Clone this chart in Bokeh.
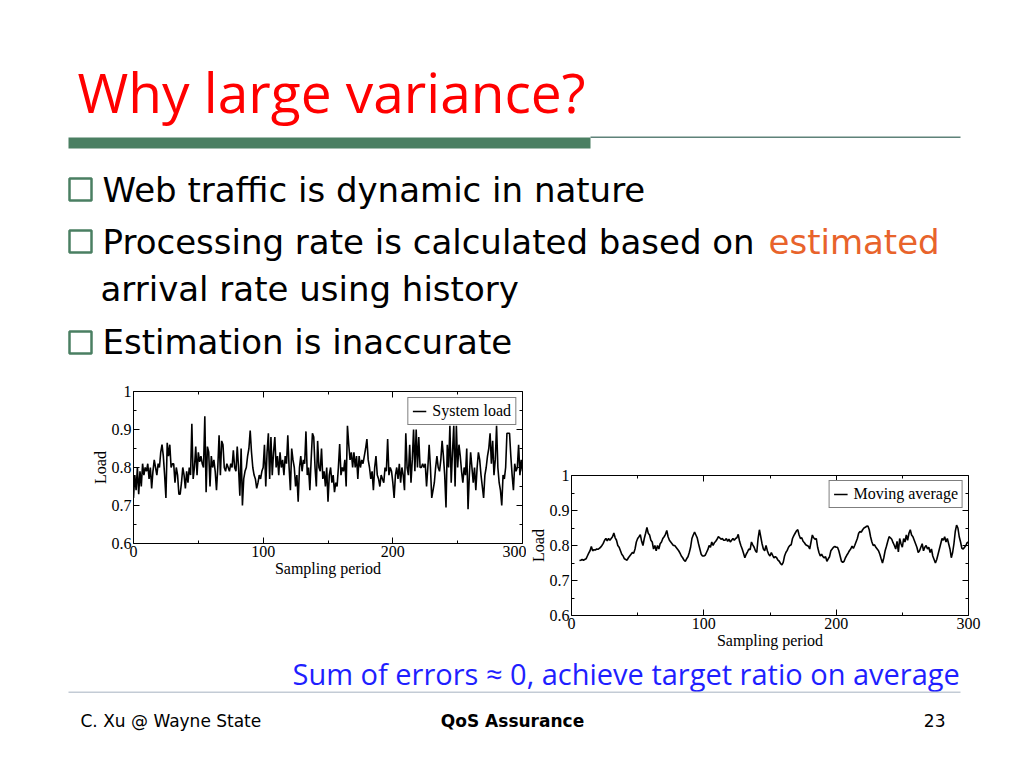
from bokeh.plotting import figure
from bokeh.layouts import row, column
from bokeh.models import (Range1d, Label, BoxAnnotation, LinearAxis, FixedTicker,
                          CustomJSTickFormatter, Spacer)
from bokeh.embed import file_html
from bokeh.resources import INLINE

# ---------------- slide texts ----------------
title_text = "Why large variance?"
bullet_1 = "Web traffic is dynamic in nature"
bullet_2a = "Processing rate is calculated based on "
bullet_2b = "estimated"
bullet_2c = "arrival rate using history"
bullet_3 = "Estimation is inaccurate"
note_text = "Sum of errors \u2248 0, achieve target ratio on average"
footer_left = "C. Xu @ Wayne State"
footer_mid = "QoS Assurance"
footer_right = "23"

# ---------------- chart data ----------------
x_label = "Sampling period"
y_label = "Load"
legend_1 = "System load"
legend_2 = "Moving average"
x_ticks = [0, 100, 200, 300]
x_minor = [50, 150, 250]
y_ticks = [0.6, 0.7, 0.8, 0.9, 1.0]
y_minor = [0.65, 0.75, 0.85, 0.95]

# system load, sampling periods 0..300
load = [
    0.72, 0.78, 0.74, 0.80, 0.73, 0.79, 0.75, 0.81, 0.78, 0.80,
    0.79, 0.81, 0.77, 0.80, 0.745, 0.79, 0.82, 0.80, 0.78, 0.81,
    0.80, 0.84, 0.86, 0.83, 0.78, 0.72, 0.865, 0.83, 0.86, 0.80,
    0.81, 0.81, 0.76, 0.80, 0.78, 0.73, 0.73, 0.76, 0.80, 0.78,
    0.745, 0.79, 0.76, 0.80, 0.78, 0.915, 0.77, 0.80, 0.855, 0.78,
    0.84, 0.815, 0.83, 0.81, 0.80, 0.935, 0.735, 0.855, 0.84, 0.75,
    0.83, 0.80, 0.82, 0.79, 0.74, 0.80, 0.885, 0.78, 0.87, 0.86,
    0.80, 0.79, 0.81, 0.80, 0.79, 0.81, 0.80, 0.845, 0.80, 0.79,
    0.855, 0.80, 0.726, 0.85, 0.70, 0.77, 0.79, 0.80, 0.83, 0.85,
    0.897, 0.84, 0.80, 0.78, 0.77, 0.745, 0.76, 0.78, 0.77, 0.79,
    0.80, 0.86, 0.75, 0.84, 0.89, 0.77, 0.88, 0.78, 0.84, 0.88,
    0.80, 0.83, 0.78, 0.84, 0.80, 0.82, 0.78, 0.83, 0.81, 0.885,
    0.80, 0.74, 0.85, 0.82, 0.80, 0.75, 0.78, 0.71, 0.80, 0.83,
    0.79, 0.82, 0.81, 0.895, 0.78, 0.80, 0.74, 0.82, 0.89, 0.88,
    0.80, 0.75, 0.87, 0.80, 0.79, 0.85, 0.77, 0.79, 0.75, 0.80,
    0.71, 0.78, 0.80, 0.76, 0.78, 0.735, 0.76, 0.75, 0.80, 0.862,
    0.78, 0.80, 0.79, 0.82, 0.75, 0.91, 0.86, 0.82, 0.84, 0.80,
    0.84, 0.80, 0.83, 0.77, 0.83, 0.80, 0.82, 0.81, 0.83, 0.85,
    0.875, 0.82, 0.80, 0.77, 0.79, 0.74, 0.80, 0.83, 0.78, 0.77,
    0.75, 0.78, 0.77, 0.76, 0.80, 0.79, 0.875, 0.78, 0.80, 0.79,
    0.76, 0.72, 0.78, 0.80, 0.77, 0.81, 0.76, 0.80, 0.78, 0.74,
    0.89, 0.80, 0.78, 0.86, 0.76, 0.82, 0.90, 0.79, 0.90, 0.80,
    0.88, 0.80, 0.80, 0.81, 0.80, 0.81, 0.75, 0.80, 0.86, 0.80,
    0.72, 0.74, 0.76, 0.80, 0.83, 0.80, 0.79, 0.82, 0.87, 0.83,
    0.78, 0.695, 0.86, 0.80, 0.91, 0.76, 0.84, 0.91, 0.75, 0.91,
    0.80, 0.86, 0.83, 0.79, 0.76, 0.80, 0.78, 0.85, 0.69, 0.78,
    0.84, 0.80, 0.76, 0.80, 0.74, 0.80, 0.84, 0.82, 0.78, 0.75,
    0.72, 0.78, 0.80, 0.83, 0.85, 0.89, 0.81, 0.87, 0.78, 0.82,
    0.91, 0.80, 0.76, 0.74, 0.70, 0.78, 0.77, 0.80, 0.89, 0.89,
    0.89, 0.83, 0.78, 0.74, 0.81, 0.79, 0.80, 0.86, 0.78, 0.82, 0.79,
]
load_periods = list(range(len(load)))

# moving average, sampling periods 6..300
moving_avg = [
    0.757, 0.758, 0.760, 0.758, 0.760, 0.762, 0.770, 0.778, 0.785, 0.797,
    0.785, 0.788, 0.787, 0.790, 0.789, 0.792, 0.795, 0.800, 0.806, 0.815,
    0.820, 0.813, 0.820, 0.815, 0.820, 0.825, 0.836, 0.822, 0.815, 0.800,
    0.795, 0.785, 0.775, 0.770, 0.762, 0.760, 0.758, 0.765, 0.770, 0.775,
    0.780, 0.778, 0.790, 0.810, 0.820, 0.825, 0.831, 0.812, 0.800, 0.820,
    0.835, 0.852, 0.835, 0.830, 0.815, 0.810, 0.790, 0.800, 0.785, 0.800,
    0.790, 0.805, 0.810, 0.820, 0.825, 0.832, 0.843, 0.825, 0.815, 0.810,
    0.805, 0.800, 0.800, 0.795, 0.790, 0.785, 0.778, 0.770, 0.765, 0.758,
    0.755, 0.762, 0.768, 0.780, 0.795, 0.820, 0.830, 0.838, 0.830, 0.822,
    0.805, 0.790, 0.775, 0.770, 0.770, 0.772, 0.780, 0.788, 0.800, 0.795,
    0.810, 0.800, 0.808, 0.812, 0.818, 0.825, 0.822, 0.818, 0.820, 0.815,
    0.815, 0.820, 0.812, 0.818, 0.810, 0.815, 0.820, 0.815, 0.820, 0.822,
    0.832, 0.812, 0.800, 0.790, 0.778, 0.765, 0.775, 0.782, 0.790, 0.788,
    0.810, 0.802, 0.795, 0.785, 0.780, 0.820, 0.845, 0.825, 0.805, 0.790,
    0.785, 0.800, 0.785, 0.775, 0.770, 0.780, 0.772, 0.765, 0.768, 0.765,
    0.758, 0.755, 0.748, 0.745, 0.752, 0.770, 0.780, 0.786, 0.795, 0.800,
    0.802, 0.820, 0.828, 0.835, 0.842, 0.845, 0.830, 0.820, 0.822, 0.812,
    0.808, 0.802, 0.800, 0.798, 0.790, 0.810, 0.830, 0.822, 0.818, 0.820,
    0.795, 0.780, 0.770, 0.775, 0.768, 0.765, 0.768, 0.755, 0.762, 0.768,
    0.785, 0.790, 0.795, 0.797, 0.795, 0.795, 0.785, 0.770, 0.755, 0.752,
    0.755, 0.765, 0.772, 0.778, 0.785, 0.790, 0.798, 0.792, 0.800, 0.810,
    0.820, 0.835, 0.840, 0.838, 0.845, 0.850, 0.852, 0.855, 0.856, 0.845,
    0.825, 0.810, 0.800, 0.802, 0.795, 0.790, 0.785, 0.775, 0.762, 0.750,
    0.765, 0.785, 0.798, 0.812, 0.825, 0.822, 0.818, 0.808, 0.800, 0.790,
    0.812, 0.782, 0.820, 0.805, 0.795, 0.820, 0.810, 0.830, 0.815, 0.835,
    0.845, 0.830, 0.825, 0.815, 0.805, 0.795, 0.780, 0.785, 0.795, 0.805,
    0.785, 0.795, 0.800, 0.790, 0.795, 0.780, 0.790, 0.770, 0.760, 0.750,
    0.760, 0.775, 0.790, 0.805, 0.820, 0.815, 0.825, 0.810, 0.820, 0.805,
    0.790, 0.765, 0.780, 0.805, 0.840, 0.858, 0.850, 0.825, 0.810, 0.792,
    0.790, 0.795, 0.800, 0.808, 0.810,
]
ma_start = 6
ma_periods = list(range(ma_start, ma_start + len(moving_avg)))

GREEN = "#4a7f62"
SERIF = "Liberation Serif"


def deco_fig(w, y_top, y_bottom):
    p = figure(width=w, height=y_bottom - y_top,
               x_range=Range1d(0, w), y_range=Range1d(y_bottom, y_top),
               output_backend="svg", toolbar_location=None,
               x_axis_type=None, y_axis_type=None, min_border=0)
    p.xgrid.visible = False
    p.ygrid.visible = False
    p.outline_line_color = None
    p.background_fill_color = "white"
    p.border_fill_color = "white"
    return p


def lab(p, x, baseline, text, font, size, color="black", style="normal", align="left"):
    # Bokeh draws the label slightly below the requested alphabetic baseline;
    # compensate by ~0.4 em so the glyph baseline lands where intended.
    y = baseline - 0.4 * size
    p.add_layout(Label(x=x, y=y, text=text, text_font=font, text_font_size=f"{size}px",
                       text_color=color, text_font_style=style, text_align=align,
                       text_baseline="alphabetic"))


def box(p, l, r, t, b, color, fill=True, lw=0):
    if fill:
        p.add_layout(BoxAnnotation(left=l, right=r, top=t, bottom=b,
                                   fill_color=color, fill_alpha=1, line_alpha=0))
    else:
        p.add_layout(BoxAnnotation(left=l, right=r, top=t, bottom=b,
                                   fill_alpha=0, line_color=color, line_alpha=1,
                                   line_width=lw))


# ---------------- header (title + bullets) ----------------
head = deco_fig(1016, 0, 380)
lab(head, 77, 113, title_text, "Open Sans", 55, "#ff0000")
box(head, 68, 590, 137, 148, GREEN)
box(head, 590, 960, 136, 137.5, "#5e8279")
for (yt, yb) in [(178, 200), (230, 252), (331, 353)]:
    box(head, 69, 91, yt, yb, GREEN, fill=False, lw=2.5)
FS = 34
lab(head, 102, 203, bullet_1, "DejaVu Sans", FS)
lab(head, 102, 255, bullet_2a, "DejaVu Sans", FS)
lab(head, 768, 255, bullet_2b, "DejaVu Sans", FS, "#e8632b")
lab(head, 100, 302, bullet_2c, "DejaVu Sans", FS)
lab(head, 102, 355, bullet_3, "DejaVu Sans", FS)


# ---------------- charts ----------------
def chart(xs, ys, legend, w, h, ml, mr, mt, mb, lmargin):
    p = figure(width=w, height=h, x_range=Range1d(0, 300), y_range=Range1d(0.6, 1.0),
               output_backend="svg", toolbar_location=None,
               min_border_left=ml, min_border_right=mr,
               min_border_top=mt, min_border_bottom=mb)
    p.line(xs, ys, line_color="black", line_width=1.6, legend_label=legend)
    p.xgrid.visible = False
    p.ygrid.visible = False
    p.outline_line_color = "black"
    p.outline_line_width = 1
    p.background_fill_color = "white"
    p.border_fill_color = "white"

    xt = FixedTicker(ticks=x_ticks, minor_ticks=x_minor)
    yt = FixedTicker(ticks=y_ticks, minor_ticks=y_minor)
    yfmt = CustomJSTickFormatter(code="return tick > 0.99 ? '1' : tick.toFixed(1);")
    blank = CustomJSTickFormatter(code="return '';")

    def style(ax, ticker, fmt, label=None):
        ax.ticker = ticker
        ax.formatter = fmt
        ax.axis_line_color = None
        ax.major_tick_in = 6
        ax.major_tick_out = 0
        ax.minor_tick_in = 3
        ax.minor_tick_out = 0
        ax.major_tick_line_color = "black"
        ax.minor_tick_line_color = "black"
        ax.major_label_text_font = SERIF
        ax.major_label_text_font_size = "16px"
        ax.major_label_text_color = "black"
        ax.major_label_standoff = 2
        if label is not None:
            ax.axis_label = label
            ax.axis_label_text_font = SERIF
            ax.axis_label_text_font_size = "16px"
            ax.axis_label_text_font_style = "normal"
            ax.axis_label_text_color = "black"
            ax.axis_label_standoff = 0

    style(p.xaxis[0], xt, CustomJSTickFormatter(code="return tick.toFixed(0);"), x_label)
    style(p.yaxis[0], yt, yfmt, y_label)
    top = LinearAxis()
    style(top, xt, blank)
    top.major_label_standoff = 0
    right = LinearAxis()
    style(right, yt, blank)
    right.major_label_standoff = 0
    p.add_layout(top, "above")
    p.add_layout(right, "right")

    lg = p.legend[0]
    lg.location = "top_right"
    lg.margin = lmargin
    lg.padding = 4
    lg.spacing = 0
    lg.border_line_color = "black"
    lg.border_line_width = 1
    lg.background_fill_color = "white"
    lg.background_fill_alpha = 1
    lg.label_text_font = SERIF
    lg.label_text_font_size = "16px"
    lg.label_text_color = "black"
    lg.glyph_width = 14
    lg.glyph_height = 16
    lg.label_height = 16
    lg.label_standoff = 6
    return p


left_chart = chart(load_periods, load, legend_1, 456, 205, 63, 4, 11, 42, 6)
right_chart = chart(ma_periods, moving_avg, legend_2, 469, 195, 44, 27, 15, 40, 5)

middle = row(
    Spacer(width=70, height=275),
    column(left_chart, Spacer(width=456, height=70)),
    column(Spacer(width=469, height=80), right_chart),
)

# ---------------- footer ----------------
foot = deco_fig(1016, 655, 766)
lab(foot, 292, 685, note_text, "Open Sans", 29, "#1f1fff")
box(foot, 68, 960, 691, 692.5, "#c3cbd5")
lab(foot, 80, 727, footer_left, "DejaVu Sans", 17)
lab(foot, 512, 727, footer_mid, "DejaVu Sans", 17, style="bold", align="center")
lab(foot, 945, 727, footer_right, "DejaVu Sans", 17, align="right")

page = column(head, middle, foot)

open("out.html", "w").write(file_html(page, INLINE))
